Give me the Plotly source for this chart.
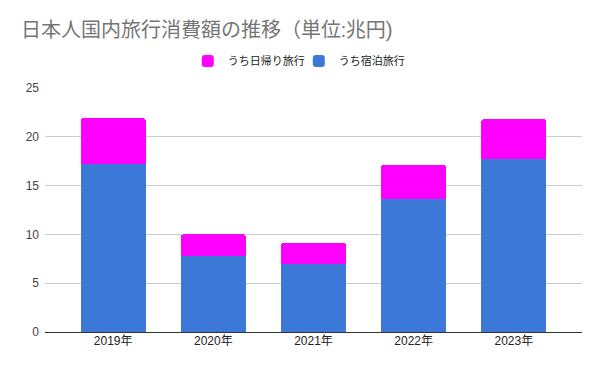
import plotly.graph_objects as go

years = ["2019年", "2020年", "2021年", "2022年", "2023年"]
shukuhaku = [17.2, 7.8, 7.0, 13.6, 17.7]   # うち宿泊旅行
higaeri = [4.7, 2.2, 2.1, 3.5, 4.1]        # うち日帰り旅行
y_ticks = [0, 5, 10, 15, 20, 25]

FONT = "Liberation Sans, Arial, Noto Sans CJK JP, sans-serif"

fig = go.Figure()
fig.add_trace(go.Bar(x=years, y=shukuhaku, name="うち宿泊旅行",
                     marker=dict(color="#3c78d8", line=dict(width=0))))
fig.add_trace(go.Bar(x=years, y=higaeri, name="うち日帰り旅行",
                     marker=dict(color="#ff00ff", line=dict(width=0))))

fig.update_layout(
    width=600, height=371,
    barmode="stack", bargap=0.35, barcornerradius=3,
    paper_bgcolor="white", plot_bgcolor="white",
    margin=dict(l=45, r=18, t=88, b=39, autoexpand=False),
    font=dict(family=FONT, size=12, color="#222222"),
    title=dict(text="日本人国内旅行消費額の推移（単位:兆円)", x=21/600, xanchor="left",
               xref="container", yref="container",
               y=1 - 30/371, yanchor="middle",
               font=dict(family="Roboto, Noto Sans CJK JP, sans-serif", size=20, color="#757575")),
    legend=dict(orientation="h", x=0.498, xanchor="center", xref="container",
                y=1 - 61/371, yanchor="middle", yref="container",
                traceorder="reversed", entrywidth=66, entrywidthmode="pixels",
                font=dict(size=11, color="#222222"), itemwidth=30),
    showlegend=True,
)
fig.update_xaxes(range=[-0.68, 4.68], showgrid=False, ticks="", showline=False,
                 automargin=False, tickfont=dict(size=12, color="#222222"))
fig.update_yaxes(range=[0, 25], tickvals=y_ticks, showgrid=True, gridcolor="#cccccc",
                 zeroline=True, zerolinecolor="#333333", zerolinewidth=1, automargin=False,
                 ticks="", tickfont=dict(size=12, color="#444444"), ticklabelstandoff=5)

fig.write_html("out.html", config={"displayModeBar": False},
               post_script="document.body.style.margin='0';document.body.style.overflow='hidden';")
